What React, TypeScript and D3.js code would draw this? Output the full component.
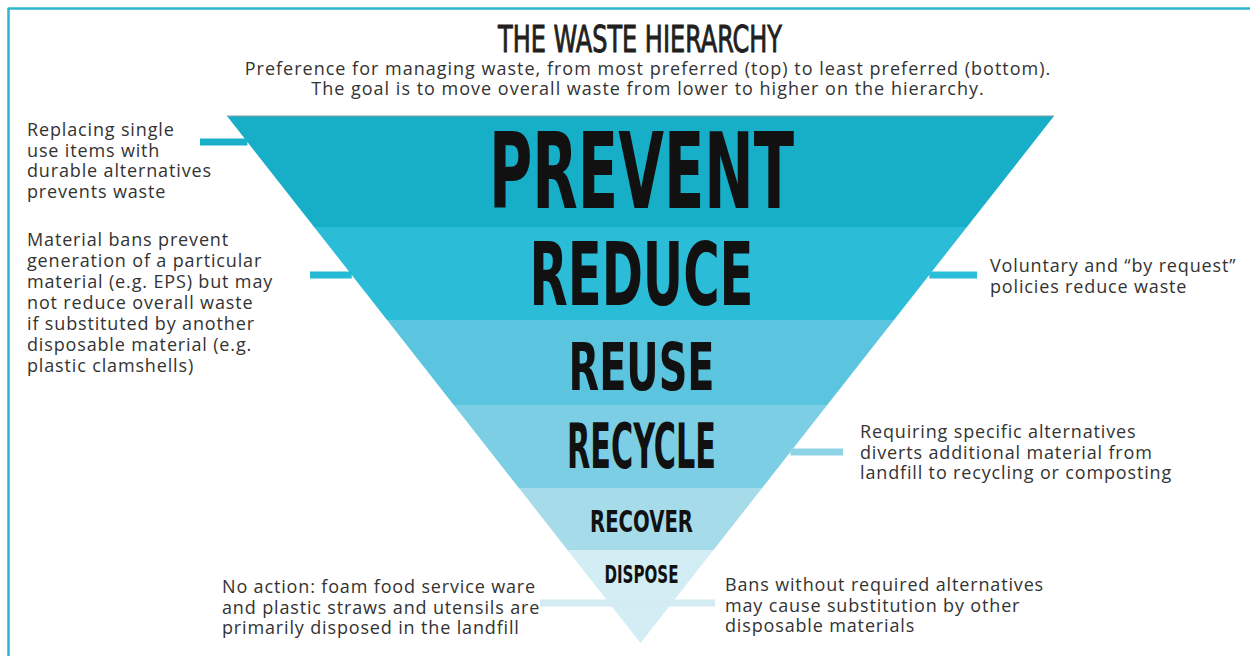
import React from "react";
import * as d3 from "d3";

// ---------- data ----------
const levels = ["PREVENT", "REDUCE", "REUSE", "RECYCLE", "RECOVER", "DISPOSE"];
const levelShares = [111, 93, 85, 83, 62, 93];
const levelColors = ["#17AEC8", "#2BBCD7", "#5BC5DF", "#7BCEE3", "#A6DBEA", "#D3EDF4"];

const titleText = "THE WASTE HIERARCHY";
const subtitleLines = [
  "Preference for managing waste, from most preferred (top) to least preferred (bottom).",
  "The goal is to move overall waste from lower to higher on the hierarchy.",
];

const notePrevent = ["Replacing single", "use items with", "durable alternatives", "prevents waste"];
const noteBans = [
  "Material bans prevent",
  "generation of a particular",
  "material (e.g. EPS) but may",
  "not reduce overall waste",
  "if substituted by another",
  "disposable material (e.g.",
  "plastic clamshells)",
];
const noteVoluntary = ["Voluntary and \u201cby request\u201d", "policies reduce waste"];
const noteRequiring = [
  "Requiring specific alternatives",
  "diverts additional material from",
  "landfill to recycling or composting",
];
const noteNoAction = [
  "No action: foam food service ware",
  "and plastic straws and utensils are",
  "primarily disposed in the landfill",
];
const noteBansNoAlt = [
  "Bans without required alternatives",
  "may cause substitution by other",
  "disposable materials",
];

// ---------- layout ----------
const W = 1250;
const H = 656;
const TOP = 116;
const APEX = 643;
const LEFT = 227;
const RIGHT = 1054;
const CX = (LEFT + RIGHT) / 2;

const labelLayout = [
  { baseline: 208, capH: 76, width: 305 },
  { baseline: 305, capH: 63, width: 224 },
  { baseline: 390, capH: 48, width: 146 },
  { baseline: 468, capH: 45, width: 149 },
  { baseline: 532, capH: 22, width: 103 },
  { baseline: 583, capH: 18, width: 74 },
];

const noteFont = "'Open Sans', 'Noto Sans', sans-serif";
const condFont = "'DejaVu Sans Condensed', 'Liberation Sans Narrow', 'DejaVu Sans', sans-serif";

export default function App() {
  const total = d3.sum(levelShares);
  const y = d3.scaleLinear().domain([0, total]).range([TOP, APEX]);
  const cum = [0, ...Array.from(d3.cumsum(levelShares))];
  const halfW = d3.scaleLinear().domain([TOP, APEX]).range([(RIGHT - LEFT) / 2, 0]);
  const leftEdge = (yy: number) => CX - halfW(yy);
  const rightEdge = (yy: number) => CX + halfW(yy);

  const bands = levels.map((name, i) => {
    const y0 = y(cum[i]);
    const y1 = y(cum[i + 1]);
    const pts: [number, number][] = [
      [leftEdge(y0), y0],
      [rightEdge(y0), y0],
      [rightEdge(y1), y1],
      [leftEdge(y1), y1],
    ];
    return { name, y0, y1, pts, color: levelColors[i] };
  });

  const line = d3.line();

  const notes = [
    { lines: notePrevent, x: 27, base: 136, lh: 20.7, anchor: "start" },
    { lines: noteBans, x: 27, base: 246, lh: 21, anchor: "start" },
    { lines: noteVoluntary, x: 990, base: 272, lh: 21, anchor: "start" },
    { lines: noteRequiring, x: 860, base: 438, lh: 20.5, anchor: "start" },
    { lines: noteNoAction, x: 222, base: 593, lh: 20.5, anchor: "start" },
    { lines: noteBansNoAlt, x: 725, base: 591, lh: 20.5, anchor: "start" },
  ];

  const connectors = [
    { x1: 200, x2: leftEdge(142), y: 142, color: "#1AB0CA" },
    { x1: 310, x2: leftEdge(275), y: 275, color: "#24B9D4" },
    { x1: rightEdge(275), x2: 977, y: 275, color: "#2ABDD8" },
    { x1: rightEdge(452), x2: 843, y: 452, color: "#8DD3E5" },
    { x1: 540, x2: 715, y: 603, color: "#D3ECF3" },
  ];

  return (
    <svg
      width={W}
      height={H}
      viewBox={`0 0 ${W} ${H}`}
      style={{ position: "absolute", left: 0, top: 0, background: "#fff" }}
    >
      <rect x={0} y={0} width={W} height={H} fill="#fff" />
      {/* frame */}
      <line x1={8} y1={8.5} x2={W} y2={8.5} stroke="#2DB6CF" strokeWidth={2.5} />
      <line x1={8.5} y1={8} x2={8.5} y2={H} stroke="#2DB6CF" strokeWidth={2.5} />

      {/* title */}
      <text
        x={640}
        y={52}
        textAnchor="middle"
        fontFamily={condFont}
        fontSize={37}
        fontWeight={400}
        fill="#231F20"
        stroke="#231F20"
        strokeWidth={0.9}
        textLength={284}
        lengthAdjust="spacingAndGlyphs"
      >
        {titleText}
      </text>
      {subtitleLines.map((s, i) => (
        <text
          key={i}
          x={648}
          y={75 + i * 20}
          textAnchor="middle"
          fontFamily={noteFont}
          fontSize={18}
          letterSpacing={1.0}
          fill="#333"
        >
          {s}
        </text>
      ))}

      {/* pyramid */}
      {bands.map((b) => (
        <path key={b.name} d={line(b.pts.concat([b.pts[0]])) || ""} fill={b.color} />
      ))}
      <line x1={LEFT} y1={TOP} x2={RIGHT} y2={TOP} stroke="#8a9a9e" strokeWidth={1} />

      {/* connectors */}
      {connectors.map((c, i) => (
        <line key={i} x1={c.x1} x2={c.x2} y1={c.y} y2={c.y} stroke={c.color} strokeWidth={7} />
      ))}

      {/* level labels */}
      {bands.map((b, i) => {
        const L = labelLayout[i];
        return (
          <text
            key={b.name}
            x={CX + 1}
            y={L.baseline}
            textAnchor="middle"
            fontFamily={condFont}
            fontWeight={700}
            fontSize={L.capH / 0.729}
            fill="#111"
            textLength={L.width}
            lengthAdjust="spacingAndGlyphs"
          >
            {b.name}
          </text>
        );
      })}

      {/* notes */}
      {notes.map((n, i) => (
        <text
          key={i}
          fontFamily={noteFont}
          fontSize={18}
          letterSpacing={0.85}
          fill="#333"
          textAnchor={n.anchor as any}
        >
          {n.lines.map((l, j) => (
            <tspan key={j} x={n.x} y={n.base + j * n.lh}>
              {l}
            </tspan>
          ))}
        </text>
      ))}
    </svg>
  );
}
